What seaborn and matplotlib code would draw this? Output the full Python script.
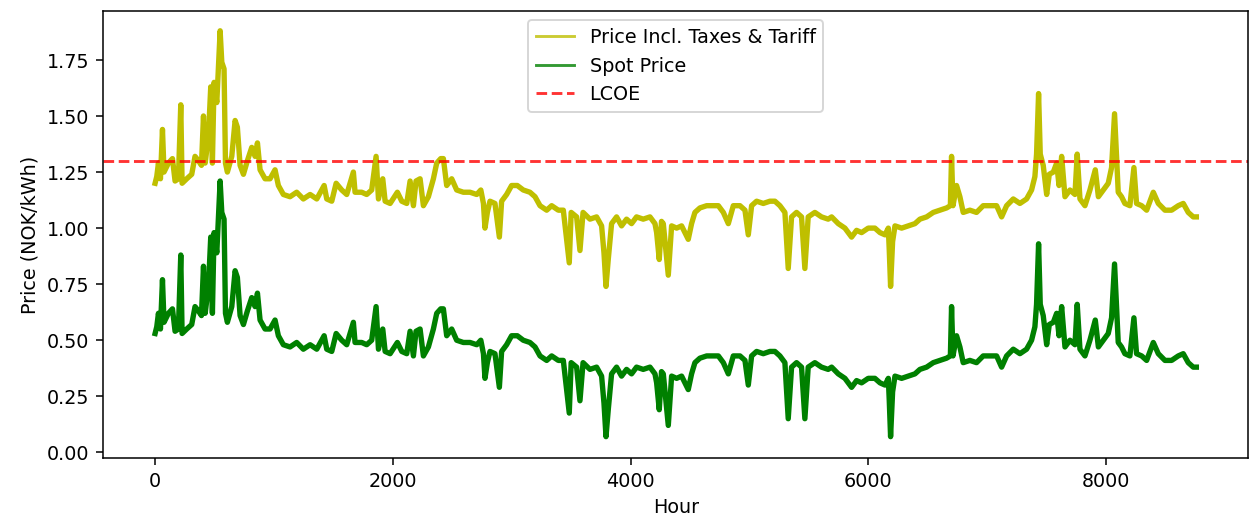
import matplotlib
matplotlib.use("Agg")
import matplotlib.pyplot as plt
import seaborn as sns
import numpy as np
import pandas as pd

# Hour samples (hour of year)
hours = [0, 14, 28, 45, 62, 75, 112, 146, 168, 196, 216, 227, 266, 308, 336, 365, 390, 407, 421, 449,
         468, 482, 496, 519, 547, 561, 580, 592, 608, 645, 673, 692, 715, 743, 776, 813, 841, 861, 883, 925,
         967, 1009, 1037, 1079, 1135, 1191, 1247, 1304, 1360, 1422, 1444, 1486, 1523, 1570, 1612, 1668, 1682, 1738, 1780, 1822,
         1859, 1879, 1915, 1935, 1977, 2038, 2075, 2117, 2145, 2173, 2195, 2229, 2257, 2299, 2341, 2369, 2403, 2425, 2453, 2495,
         2537, 2593, 2649, 2706, 2740, 2762, 2775, 2795, 2817, 2859, 2896, 2915, 2957, 2999, 3047, 3097, 3153, 3196, 3238, 3294,
         3336, 3392, 3434, 3484, 3500, 3546, 3574, 3600, 3658, 3714, 3756, 3776, 3793, 3812, 3840, 3882, 3924, 3966, 4008, 4050,
         4106, 4163, 4205, 4219, 4241, 4260, 4275, 4317, 4345, 4387, 4429, 4485, 4513, 4541, 4583, 4640, 4696, 4738, 4780, 4822,
         4864, 4920, 4962, 4990, 5018, 5060, 5116, 5172, 5214, 5256, 5298, 5326, 5354, 5396, 5438, 5466, 5494, 5550, 5606, 5662,
         5691, 5747, 5803, 5859, 5901, 5943, 5999, 6055, 6098, 6140, 6168, 6176, 6187, 6204, 6224, 6280, 6336, 6392, 6434, 6490,
         6546, 6602, 6658, 6690, 6700, 6712, 6742, 6770, 6798, 6854, 6910, 6966, 7022, 7079, 7121, 7163, 7219, 7275, 7331, 7373,
         7401, 7415, 7432, 7446, 7471, 7500, 7522, 7556, 7584, 7604, 7626, 7654, 7696, 7738, 7757, 7780, 7822, 7864, 7909, 7935,
         7976, 8018, 8046, 8071, 8102, 8130, 8158, 8200, 8234, 8256, 8299, 8341, 8397, 8439, 8495, 8551, 8607, 8649, 8691, 8733,
         8759]

# Spot price (NOK/kWh)
spot_price = [0.53, 0.56, 0.62, 0.55, 0.77, 0.58, 0.62, 0.64, 0.54, 0.55, 0.88, 0.53, 0.55, 0.57, 0.65, 0.63, 0.61, 0.83, 0.62, 0.74,
              0.96, 0.62, 0.98, 0.89, 1.21, 1.07, 1.04, 0.62, 0.58, 0.65, 0.81, 0.78, 0.61, 0.57, 0.63, 0.69, 0.65, 0.71, 0.59, 0.55,
              0.55, 0.59, 0.52, 0.48, 0.47, 0.49, 0.46, 0.48, 0.46, 0.52, 0.46, 0.45, 0.53, 0.50, 0.48, 0.58, 0.49, 0.49, 0.48, 0.50,
              0.65, 0.46, 0.55, 0.45, 0.44, 0.49, 0.45, 0.44, 0.54, 0.43, 0.54, 0.55, 0.43, 0.47, 0.55, 0.62, 0.64, 0.64, 0.52, 0.55,
              0.50, 0.49, 0.49, 0.48, 0.50, 0.44, 0.33, 0.40, 0.45, 0.44, 0.29, 0.45, 0.48, 0.52, 0.52, 0.50, 0.49, 0.47, 0.43, 0.41,
              0.43, 0.41, 0.41, 0.175, 0.40, 0.38, 0.23, 0.40, 0.37, 0.38, 0.34, 0.22, 0.07, 0.19, 0.35, 0.38, 0.34, 0.37, 0.35, 0.38,
              0.37, 0.38, 0.35, 0.31, 0.19, 0.36, 0.35, 0.12, 0.34, 0.33, 0.34, 0.28, 0.35, 0.40, 0.42, 0.43, 0.43, 0.43, 0.40, 0.35,
              0.43, 0.43, 0.41, 0.30, 0.43, 0.45, 0.44, 0.45, 0.45, 0.43, 0.40, 0.15, 0.38, 0.40, 0.38, 0.15, 0.38, 0.40, 0.38, 0.37,
              0.38, 0.35, 0.33, 0.29, 0.32, 0.31, 0.33, 0.33, 0.31, 0.30, 0.33, 0.23, 0.07, 0.27, 0.34, 0.33, 0.34, 0.35, 0.37, 0.38,
              0.40, 0.41, 0.42, 0.43, 0.65, 0.43, 0.52, 0.47, 0.40, 0.41, 0.40, 0.43, 0.43, 0.43, 0.38, 0.43, 0.46, 0.44, 0.46, 0.50,
              0.56, 0.66, 0.93, 0.66, 0.61, 0.48, 0.57, 0.58, 0.62, 0.52, 0.65, 0.47, 0.50, 0.48, 0.66, 0.46, 0.43, 0.50, 0.59, 0.47,
              0.50, 0.53, 0.60, 0.84, 0.49, 0.47, 0.44, 0.43, 0.60, 0.44, 0.43, 0.41, 0.49, 0.44, 0.41, 0.41, 0.43, 0.44, 0.40, 0.38,
              0.38]

# Taxes & tariff add-on (NOK/kWh), read as the gap between the two lines
taxes_and_tariff = 0.67
lcoe = 1.30

total_price = [p + taxes_and_tariff for p in spot_price]

df = pd.DataFrame({"Hour": hours, "Spot": spot_price, "Total": total_price})

dpi = 138
fig, ax = plt.subplots(figsize=(1252.4 / dpi, 523.4 / dpi), dpi=dpi)
fig.subplots_adjust(left=103 / 1252, right=1248 / 1252, top=1 - 11 / 523, bottom=1 - 458 / 523)

sns.lineplot(data=df, x="Hour", y="Total", color="y", linewidth=2.8,
             label="Price Incl. Taxes & Tariff", ax=ax)
sns.lineplot(data=df, x="Hour", y="Spot", color="g", linewidth=2.8,
             label="Spot Price", ax=ax)
ax.axhline(lcoe, color="r", linestyle="--", alpha=0.8, linewidth=1.5, label="LCOE")

ax.set_xlabel("Hour")
ax.set_ylabel("Price (NOK/kWh)")
ax.set_xlim(-438, 9197)
ax.set_ylim(-0.025, 1.97)
ax.set_xticks([0, 2000, 4000, 6000, 8000])
ax.set_yticks([0, 0.25, 0.5, 0.75, 1.0, 1.25, 1.5, 1.75])
ax.set_yticklabels(["0.00", "0.25", "0.50", "0.75", "1.00", "1.25", "1.50", "1.75"])
leg = ax.legend(loc="upper center")
for h in leg.legend_handles:
    h.set_linewidth(1.5)
    h.set_alpha(0.8)

fig.savefig("out.png", dpi=dpi)
